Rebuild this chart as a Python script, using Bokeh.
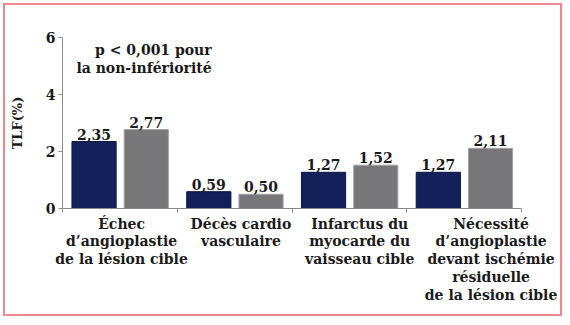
from bokeh.plotting import figure
from bokeh.models import (Range1d, LinearAxis, FixedTicker, ColumnDataSource, Label)
from bokeh.transform import dodge
from bokeh.embed import file_html
from bokeh.resources import INLINE
from bokeh.core.properties import value

categories = [
    "Échec\nd’angioplastie\nde la lésion cible",
    "Décès cardio\nvasculaire",
    "Infarctus du\nmyocarde du\nvaisseau cible",
    "Nécessité\nd’angioplastie\ndevant ischémie\nrésiduelle\nde la lésion cible",
]
series_a = [2.35, 0.59, 1.27, 1.27]
series_b = [2.77, 0.50, 1.52, 2.11]
y_ticks = [0, 2, 4, 6]
y_label = "TLF(%)"
note = "p < 0,001 pour\nla non-infériorité"

FONT = "DejaVu Serif"
NAVY = "#13205a"
GREY = "#77777a"
AXIS = "#8a8a8a"
TXT = "#1a1a1a"

# layout: label anchors are nudged right of the category centres, as in the source
LABEL_NUDGE = [0.015, 0.055, 0.09, 0.235]

def fmt(v):
    return f"{v:.2f}".replace(".", ",")

n = len(categories)
centers = [i + 0.5 for i in range(n)]
bounds = list(range(n + 1))
label_pos = [c + d for c, d in zip(centers, LABEL_NUDGE)]

src = ColumnDataSource(dict(
    xc=centers, a=series_a, b=series_b,
    la=[fmt(v) for v in series_a], lb=[fmt(v) for v in series_b],
))

p = figure(width=559, height=313, output_backend="svg", toolbar_location=None,
           x_range=Range1d(0, n), y_range=Range1d(0, 6),
           x_axis_location=None, y_axis_location=None,
           min_border_left=57, min_border_right=43, min_border_top=32, min_border_bottom=110)
p.styles = {"margin-left": "3px", "margin-top": "3px", "border": "2px solid #ef8790"}
p.outline_line_color = None
p.grid.visible = False
p.background_fill_color = "white"
p.border_fill_color = "white"

# Y axis
yax = LinearAxis(ticker=FixedTicker(ticks=y_ticks), axis_label=y_label)
yax.axis_line_color = AXIS
yax.major_tick_line_color = AXIS
yax.major_tick_in = 0
yax.major_tick_out = 4
yax.minor_tick_line_color = None
yax.major_label_standoff = 3
yax.major_label_text_font = FONT
yax.major_label_text_font_style = "bold"
yax.major_label_text_font_size = "14px"
yax.major_label_text_color = TXT
yax.axis_label_text_font = FONT
yax.axis_label_text_font_style = "bold"
yax.axis_label_text_font_size = "13px"
yax.axis_label_text_color = TXT
yax.axis_label_standoff = 18
p.add_layout(yax, "left")

# X axis: labels near category centres, short ticks at category boundaries
xax = LinearAxis(ticker=FixedTicker(ticks=label_pos, minor_ticks=bounds),
                 major_label_overrides={c: t for c, t in zip(label_pos, categories)})
xax.axis_line_color = AXIS
xax.major_tick_line_color = None
xax.major_tick_out = 4
xax.major_tick_in = 0
xax.minor_tick_line_color = AXIS
xax.minor_tick_out = 4
xax.minor_tick_in = 0
xax.major_label_standoff = 3
xax.major_label_text_font = FONT
xax.major_label_text_font_style = "bold"
xax.major_label_text_font_size = "14px"
xax.major_label_text_color = TXT
xax.major_label_text_line_height = 1.12
p.add_layout(xax, "below")

W = 0.385
p.vbar(x=dodge("xc", -0.225), top="a", width=W, source=src,
       fill_color=NAVY, line_color="#0c1540", line_width=1)
p.vbar(x=dodge("xc", 0.23), top="b", width=W, source=src,
       fill_color=GREY, line_color="#a3a3a5", line_width=1)

p.text(x=dodge("xc", -0.225), y="a", text="la", source=src,
       text_align="center", text_baseline="bottom", y_offset=-2,
       text_font=value(FONT), text_font_style="bold", text_font_size="14px", text_color=TXT)
p.text(x=dodge("xc", 0.23), y="b", text="lb", source=src,
       text_align="center", text_baseline="bottom", y_offset=-2,
       text_font=value(FONT), text_font_style="bold", text_font_size="14px", text_color=TXT)

p.add_layout(Label(x=1.30, y=5.85, text=note, text_align="right",
                   text_baseline="top", text_font=FONT, text_font_style="bold",
                   text_font_size="14px", text_color=TXT, text_line_height=1.15))

open("out.html", "w").write(file_html(p, INLINE))
